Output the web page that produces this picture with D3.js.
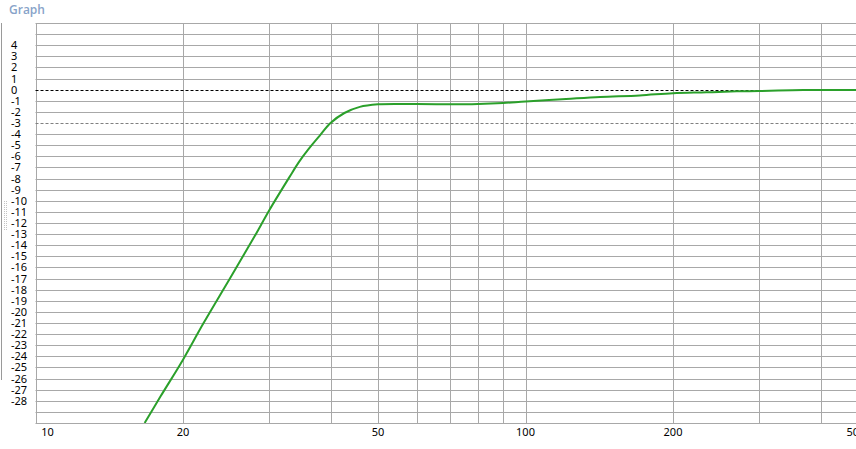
<!DOCTYPE html>
<html><head><meta charset="utf-8">
<script src="https://cdn.jsdelivr.net/npm/d3@7"></script>
<style>
html,body{margin:0;padding:0;background:#fff;overflow:hidden}
text{font-family:"Noto Sans","DejaVu Sans",sans-serif}
</style></head>
<body>
<svg id="chart" width="856" height="449"></svg>
<script>
const freqs = [16.7, 18, 20, 22, 25, 28, 30, 33, 34.5, 36, 38, 40, 42.7, 45.9, 50, 55, 60, 70, 80, 90, 100, 121, 142, 171, 200, 234, 270, 300, 350, 400, 500];
const dbValues = [-30, -27.6, -24.3, -21.05, -16.9, -13.2, -10.85, -7.85, -6.5, -5.4, -4.15, -3.0, -2.1, -1.55, -1.32, -1.28, -1.3, -1.32, -1.29, -1.2, -1.06, -0.84, -0.66, -0.52, -0.32, -0.24, -0.15, -0.12, -0.05, -0.03, -0.02];
const yTickLabels = [4,3,2,1,0,-1,-2,-3,-4,-5,-6,-7,-8,-9,-10,-11,-12,-13,-14,-15,-16,-17,-18,-19,-20,-21,-22,-23,-24,-25,-26,-27,-28];
const xGridValues = [20,30,40,50,60,70,80,90,100,200,300,400,500];
const xTickLabels = [10,20,50,100,200,500];
const title = "Graph";

(function () {
const svg = d3.select("#chart");
const pLeft = 35.5, pTop = 23, pBottom = 423;
const x = d3.scaleLog().domain([10, 500]).range([pLeft, pLeft + 490 * Math.log10(50)]);
const y = d3.scaleLinear().domain([-30, 6]).range([pBottom, pTop]);
const px = v => Math.round(v) + 0.5;

// title
svg.append("text").attr("x", 9).attr("y", 14).text(title)
  .attr("font-size", 12).attr("font-weight", 600).attr("fill", "#88a3c9")
  .style("font-family", "'Open Sans','Noto Sans',sans-serif");

// left panel edge and grip
svg.append("line").attr("x1", 1.5).attr("x2", 1.5).attr("y1", 23).attr("y2", 380)
  .attr("stroke", "#9a9a9a").attr("stroke-width", 1);
for (let i = 0; i < 15; i++) {
  svg.append("rect").attr("x", 4).attr("y", 201 + i * 2).attr("width", 1).attr("height", 1).attr("fill", "#c4c4c4");
  svg.append("rect").attr("x", 6).attr("y", 201 + i * 2).attr("width", 1).attr("height", 1).attr("fill", "#c4c4c4");
}

const xMax = 856;
// horizontal gridlines
const hVals = d3.range(-30, 7);
svg.append("g").selectAll("line").data(hVals.filter(v => v !== 0 && v !== -3)).join("line")
  .attr("x1", pLeft).attr("x2", xMax)
  .attr("y1", d => px(y(d))).attr("y2", d => px(y(d)))
  .attr("stroke", "#a8a8a8").attr("stroke-width", 1);

// vertical gridlines
svg.append("g").selectAll("line").data([10].concat(xGridValues)).join("line")
  .attr("x1", d => px(x(d))).attr("x2", d => px(x(d)))
  .attr("y1", pTop).attr("y2", pBottom + 0.5)
  .attr("stroke", "#a8a8a8").attr("stroke-width", 1);

// reference dashed lines
svg.append("line").attr("x1", pLeft).attr("x2", xMax).attr("y1", px(y(0))).attr("y2", px(y(0)))
  .attr("stroke", "#000").attr("stroke-dasharray", "3,2");
svg.append("line").attr("x1", pLeft).attr("x2", xMax).attr("y1", px(y(-3))).attr("y2", px(y(-3)))
  .attr("stroke", "#808080").attr("stroke-dasharray", "3,2");

// clip
svg.append("clipPath").attr("id", "clip").append("rect")
  .attr("x", pLeft).attr("y", pTop).attr("width", xMax - pLeft).attr("height", pBottom - pTop);

const line = d3.line().x((d, i) => x(freqs[i])).y(d => y(d)).curve(d3.curveCatmullRom.alpha(0.5));
svg.append("path").datum(dbValues).attr("d", line).attr("clip-path", "url(#clip)")
  .attr("fill", "none").attr("stroke", "#2ba02b").attr("stroke-width", 2);

// y labels
svg.append("g").selectAll("text").data(yTickLabels).join("text")
  .attr("x", 11).attr("y", d => y(d)).attr("dy", "0.36em")
  .attr("font-size", 11).attr("fill", "#000").text(d => d);

// x labels
svg.append("g").selectAll("text").data(xTickLabels).join("text")
  .attr("x", d => Math.min(Math.max(x(d), 47.5), 856))
  .attr("y", 436).attr("text-anchor", "middle")
  .attr("font-size", 11).attr("fill", "#000").text(d => d);
})();
</script>
</body></html>
